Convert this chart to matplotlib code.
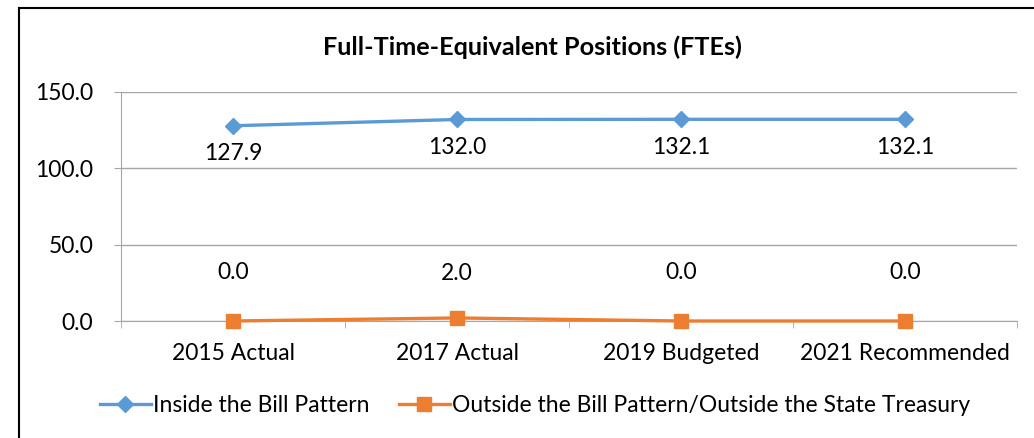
import matplotlib
matplotlib.use("Agg")
import matplotlib.pyplot as plt
from matplotlib.lines import Line2D

plt.rcParams['font.family'] = ['Lato', 'DejaVu Sans']

categories = ["2015 Actual", "2017 Actual", "2019 Budgeted", "2021 Recommended"]
inside = [127.9, 132.0, 132.1, 132.1]
outside = [0.0, 2.0, 0.0, 0.0]
yticks = [0, 50, 100, 150]

blue = "#5B9BD5"
orange = "#ED7D31"
grey = "#A6A6A6"
fs = 16.5

W, H = 1034, 438
fig = plt.figure(figsize=(W / 100, H / 100), dpi=100)
ax = fig.add_axes([121 / W, 1 - 321 / H, (1017 - 121) / W, (321 - 92) / H])

x = range(len(categories))
ax.plot(x, inside, color=blue, lw=2.4, marker="D", ms=8, label="Inside the Bill Pattern",
        zorder=3, clip_on=False)
ax.plot(x, outside, color=orange, lw=2.4, marker="s", ms=9.5,
        label="Outside the Bill Pattern/Outside the State Treasury", zorder=3, clip_on=False)

for i, v in enumerate(inside):
    ax.annotate(f"{v:.1f}", (i, v), xytext=(0, -20), textcoords="offset points",
                ha="center", va="center", fontsize=fs)
for i, v in enumerate(outside):
    ax.annotate(f"{v:.1f}", (i, v), xytext=(0, 35 - 1.5 * v), textcoords="offset points",
                ha="center", va="center", fontsize=fs)

ax.set_xlim(-0.5, len(categories) - 0.5)
ax.set_ylim(0, 150)
ax.set_yticks(yticks)
ax.set_yticklabels([f"{t:.1f}" for t in yticks], fontsize=fs)
ax.set_xticks(list(x))
ax.set_xticklabels(categories, fontsize=fs)
ax.set_xticks([i - 0.5 for i in range(len(categories) + 1)], minor=True)
ax.tick_params(axis="x", which="major", length=0, pad=16)
ax.tick_params(axis="x", which="minor", length=5, color=grey, direction="out")
ax.tick_params(axis="y", length=5, color=grey, pad=15)
ax.yaxis.grid(True, color=grey, lw=1)
ax.set_axisbelow(True)
for s in ["top", "right"]:
    ax.spines[s].set_visible(False)
for s in ["left", "bottom"]:
    ax.spines[s].set_color(grey)

fig.text(532 / W, 1 - 47 / H, "Full-Time-Equivalent Positions (FTEs)", ha="center", va="center",
         fontsize=18.2, fontweight="bold")

fig.legend(loc="center", bbox_to_anchor=(535 / W, 1 - 406 / H), ncol=2, frameon=False,
           fontsize=fs, handlelength=2.2, handletextpad=0.1, columnspacing=1.3)

# outer chart frame (cut off at the right and bottom)
fig.add_artist(Line2D([19 / W, 1.01], [1 - 8 / H, 1 - 8 / H], transform=fig.transFigure, color="black", lw=1.5))
fig.add_artist(Line2D([19 / W, 19 / W], [-0.01, 1 - 8 / H], transform=fig.transFigure, color="black", lw=1.5))

fig.savefig("out.png", dpi=100)
